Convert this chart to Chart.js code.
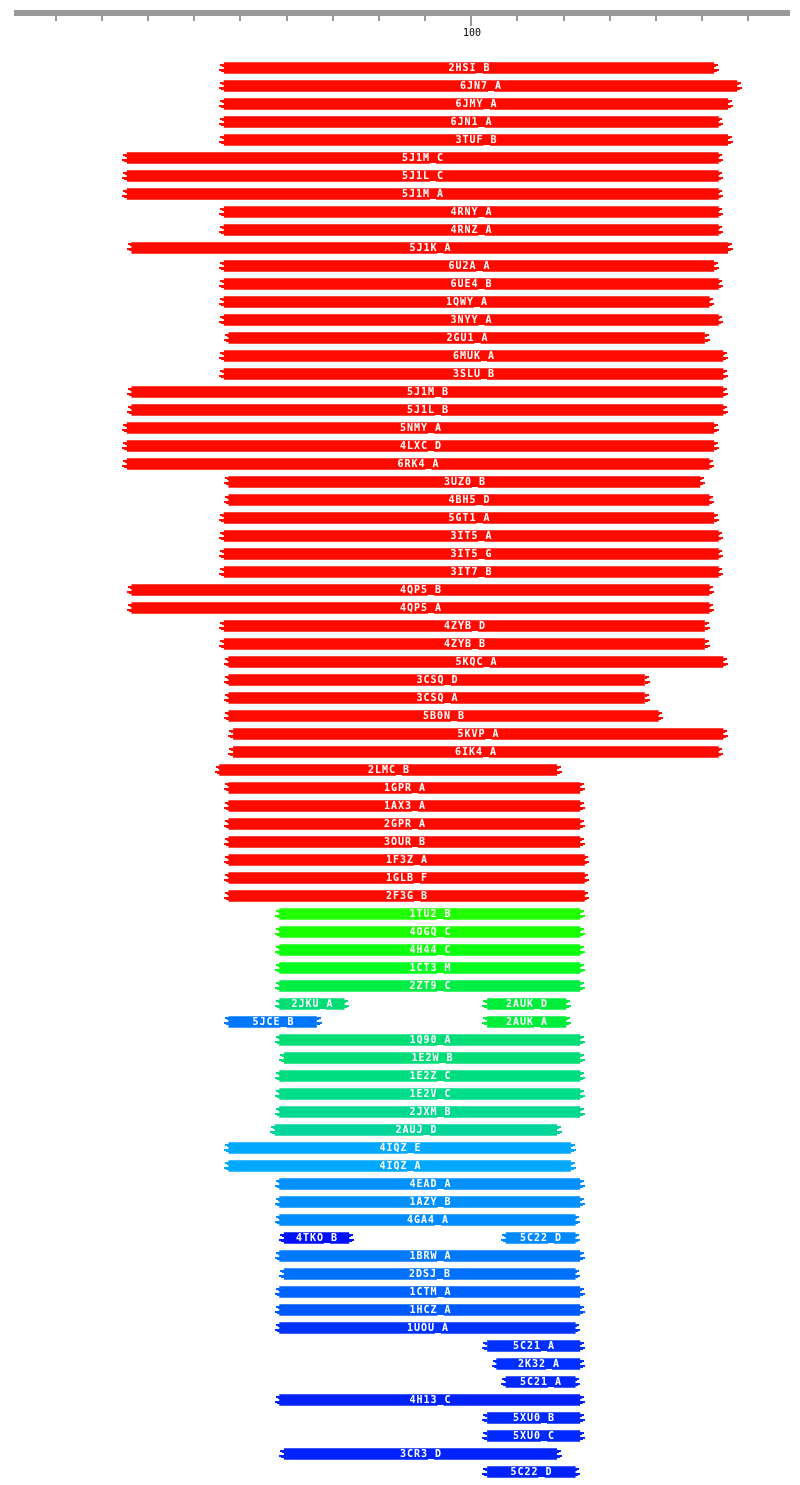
<!DOCTYPE html>
<html lang="en">
<head>
  <meta charset="UTF-8" />
  <title>Alignment overview</title>
  <script src="https://cdn.jsdelivr.net/npm/chart.js"></script>
  <style>
    body { margin: 0; background: #fff; }
    #wrap { width: 800px; height: 1485px; position: relative; }
  </style>
</head>
<body>
  <div id="wrap"><canvas id="alignChart"></canvas></div>

  <script>
    // hit names, one row each
    const hitNames = [
      '2HSI_B','6JN7_A','6JMY_A','6JN1_A','3TUF_B','5J1M_C','5J1L_C','5J1M_A','4RNY_A','4RNZ_A',
      '5J1K_A','6U2A_A','6UE4_B','1QWY_A','3NYY_A','2GU1_A','6MUK_A','3SLU_B','5J1M_B','5J1L_B',
      '5NMY_A','4LXC_D','6RK4_A','3UZ0_B','4BH5_D','5GT1_A','3IT5_A','3IT5_G','3IT7_B','4QP5_B',
      '4QP5_A','4ZYB_D','4ZYB_B','5KQC_A','3CSQ_D','3CSQ_A','5B0N_B','5KVP_A','6IK4_A','2LMC_B',
      '1GPR_A','1AX3_A','2GPR_A','3OUR_B','1F3Z_A','1GLB_F','2F3G_B','1TU2_B','4OGQ_C','4H44_C',
      '1CT3_M','2ZT9_C','2JKU_A','5JCE_B','1Q90_A','1E2W_B','1E2Z_C','1E2V_C','2JXM_B','2AUJ_D',
      '4IQZ_E','4IQZ_A','4EAD_A','1AZY_B','4GA4_A','4TKO_B','1BRW_A','2DSJ_B','1CTM_A','1HCZ_A',
      '1UOU_A','5C21_A','2K32_A','5C21_A','4H13_C','5XU0_B','5XU0_C','3CR3_D','5C22_D'
    ];
    const hitStart = [
      47,47,47,47,47,26,26,26,47,47,
      27,47,47,47,47,48,47,47,27,27,
      26,26,26,48,48,47,47,47,47,27,
      27,47,47,48,48,48,48,49,49,46,
      48,48,48,48,48,48,48,59,59,59,
      59,59,59,48,59,60,59,59,59,58,
      48,48,59,59,59,60,59,60,59,59,
      59,104,106,108,59,104,104,60,104
    ];
    const hitEnd = [
      152,157,155,153,155,153,153,153,153,153,
      155,152,153,151,153,150,154,154,154,154,
      152,152,151,149,151,152,153,153,153,151,
      151,150,150,154,137,137,140,154,153,118,
      123,123,123,123,124,124,124,123,123,123,
      123,123,72,66,123,123,123,123,123,118,
      121,121,123,123,122,73,123,122,123,123,
      122,123,123,122,123,123,123,118,122
    ];
    const hitColors = [
      '#ff0a00','#ff0a00','#ff0a00','#ff0a00','#ff0a00','#ff0a00','#ff0a00','#ff0a00','#ff0a00','#ff0a00',
      '#ff0a00','#ff0a00','#ff0a00','#ff0a00','#ff0a00','#ff0a00','#ff0a00','#ff0a00','#ff0a00','#ff0a00',
      '#ff0a00','#ff0a00','#ff0a00','#ff0a00','#ff0a00','#ff0a00','#ff0a00','#ff0a00','#ff0a00','#ff0a00',
      '#ff0a00','#ff0a00','#ff0a00','#ff0a00','#ff0a00','#ff0a00','#ff0a00','#ff0a00','#ff0a00','#ff0a00',
      '#ff0a00','#ff0a00','#ff0a00','#ff0a00','#ff0a00','#ff0a00','#ff0a00','#22ff00','#1aff00','#0cff0c',
      '#00ff1e','#00ee44','#00dd77','#0077ff','#00dd77','#00dd77','#00dd80','#00dd88','#00d890','#00d49a',
      '#00a8ff','#00a8ff','#0090ff','#0090ff','#008cff','#0011ff','#0078ff','#0070ff','#0062ff','#0058ff',
      '#0033ff','#0030ff','#002eff','#0028ff','#0022ff','#0028ff','#0028ff','#0022ff','#0022ff'
    ];

    // second hit on the same row
    const secondNames = { 52: '2AUK_D', 53: '2AUK_A', 65: '5C22_D' };
    const secondStart = { 52: 104, 53: 104, 65: 108 };
    const secondEnd = { 52: 120, 53: 120, 65: 122 };
    const secondColors = { 52: '#00ee3a', 53: '#00ee3a', 65: '#0088ff' };

    // ruler
    const rulerMin = 1;
    const rulerMax = 169;
    const rulerTicks = [10, 20, 30, 40, 50, 60, 70, 80, 90, 100, 110, 120, 130, 140, 150, 160];
    const rulerLabels = [100];

    const rows = hitNames.map((n, i) => i);
    const mainData = rows.map(i => [hitStart[i] - 0.5, hitEnd[i] + 0.5]);
    const secondData = rows.map(i => secondStart[i] != null ? [secondStart[i] - 0.5, secondEnd[i] + 0.5] : null);
    const secondCols = rows.map(i => secondColors[i] || 'rgba(0,0,0,0)');

    const rulerPlugin = {
      id: 'ruler',
      afterDraw(chart) {
        const ctx = chart.ctx;
        const x = chart.scales.x;
        const x0 = x.getPixelForValue(rulerMin);
        const x1 = x.getPixelForValue(rulerMax);
        ctx.save();
        ctx.fillStyle = '#999999';
        ctx.fillRect(x0, 10, x1 - x0, 6);
        rulerTicks.forEach(v => {
          const px = Math.round(x.getPixelForValue(v));
          const long = rulerLabels.includes(v);
          ctx.fillRect(px - 1, 16, 2, long ? 10 : 5);
        });
        ctx.fillStyle = '#000';
        ctx.font = '10px "DejaVu Sans Mono"';
        ctx.textAlign = 'center';
        ctx.textBaseline = 'alphabetic';
        rulerLabels.forEach(v => {
          ctx.fillText(String(v), Math.round(x.getPixelForValue(v)) + 1, 36);
        });
        ctx.restore();
      }
    };

    // jagged ends and names on the bars
    const barDecor = {
      id: 'barDecor',
      afterDatasetsDraw(chart) {
        const ctx = chart.ctx;
        ctx.save();
        chart.data.datasets.forEach((ds, di) => {
          const meta = chart.getDatasetMeta(di);
          meta.data.forEach((bar, i) => {
            if (!ds.data[i]) return;
            const left = Math.round(Math.min(bar.x, bar.base));
            const right = Math.round(Math.max(bar.x, bar.base));
            const top = Math.round(bar.y - bar.height / 2);
            ctx.fillStyle = ds.backgroundColor[i];
            // left end
            ctx.fillRect(left - 4, top + 1, 4, 2);
            ctx.fillRect(left - 2, top + 3, 2, 1);
            ctx.fillRect(left - 5, top + 6, 5, 2);
            ctx.fillRect(left - 3, top + 8, 3, 1);
            // right end
            ctx.fillRect(right, top + 1, 4, 2);
            ctx.fillRect(right, top + 3, 2, 1);
            ctx.fillRect(right, top + 6, 5, 2);
            ctx.fillRect(right, top + 8, 3, 1);
            // name
            const name = di === 0 ? hitNames[i] : secondNames[i];
            ctx.fillStyle = '#ffffff';
            ctx.font = 'bold 10px "DejaVu Sans Mono"';
            ctx.letterSpacing = '1px';
            ctx.textAlign = 'center';
            ctx.textBaseline = 'alphabetic';
            ctx.fillText(name, (left + right) / 2 + 0.5, Math.round(bar.y) + 3);
          });
        });
        ctx.restore();
      }
    };

    const ctxAlign = document.getElementById('alignChart').getContext('2d');
    const alignChart = new Chart(ctxAlign, {
      type: 'bar',
      data: {
        labels: rows,
        datasets: [
          {
            data: mainData,
            backgroundColor: hitColors,
            barThickness: 11,
            borderWidth: 0,
            borderSkipped: false
          },
          {
            data: secondData,
            backgroundColor: secondCols,
            barThickness: 11,
            borderWidth: 0,
            borderSkipped: false
          }
        ]
      },
      options: {
        indexAxis: 'y',
        responsive: true,
        maintainAspectRatio: false,
        animation: false,
        grouped: false,
        layout: { padding: { left: 14, right: 10, top: 59, bottom: 4 } },
        plugins: {
          legend: { display: false },
          tooltip: { enabled: false }
        },
        scales: {
          x: { display: false, min: rulerMin, max: rulerMax },
          y: { display: false }
        }
      },
      plugins: [rulerPlugin, barDecor]
    });
  </script>
</body>
</html>
